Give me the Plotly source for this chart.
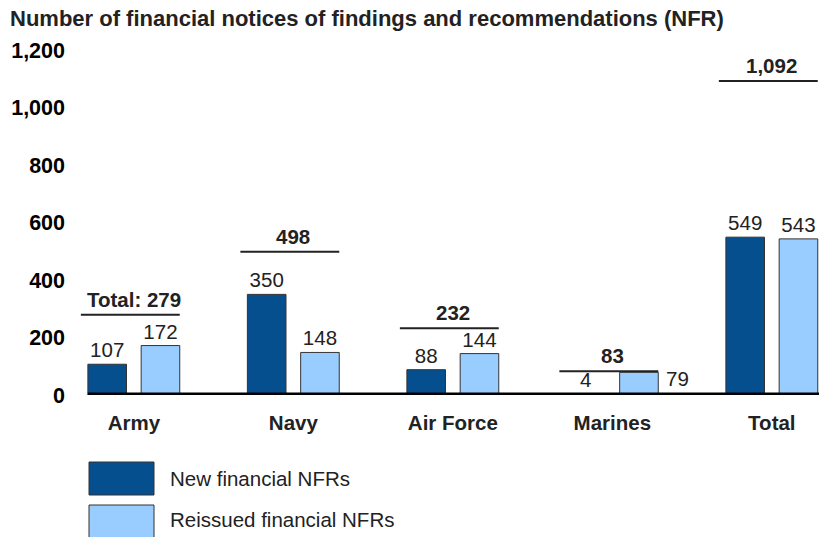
import plotly.graph_objects as go

categories = ["Army", "Navy", "Air Force", "Marines", "Total"]
new_nfrs = [107, 350, 88, 4, 549]
reissued_nfrs = [172, 148, 144, 79, 543]
group_totals = [279, 498, 232, 83, 1092]
total_prefix = ["Total: ", "", "", "", ""]
series_names = ["New financial NFRs", "Reissued financial NFRs"]
y_ticks = [0, 200, 400, 600, 800, 1000, 1200]
title_text = "Number of financial notices of findings and recommendations (NFR)"

DARK = "#054F8F"
LIGHT = "#99CCFF"
TXT = "#222222"
FONT = "Liberation Sans, Arial, sans-serif"

W, H = 819, 537
L, R, T, B = 78, 0, 50, 142
PW, PH = W - L - R, H - T - B

xs = list(range(len(categories)))
BW = 0.242
OFF_NEW = -0.288
OFF_RE = 0.046

# label texts (Marines reissued label is placed beside the bar)
re_text = [str(v) for v in reissued_nfrs]
re_text[3] = ""

VAL_SIZE = 20.5

fig = go.Figure()
fig.add_trace(go.Bar(
    x=xs, y=new_nfrs, name=series_names[0], width=BW, offset=OFF_NEW,
    marker=dict(color=DARK, line=dict(color="#333333", width=1)),
    text=[str(v) for v in new_nfrs], textposition="outside",
    textfont=dict(size=VAL_SIZE, color=TXT, family=FONT), cliponaxis=False,
    showlegend=False, hoverinfo="skip",
))
fig.add_trace(go.Bar(
    x=xs, y=reissued_nfrs, name=series_names[1], width=BW, offset=OFF_RE,
    marker=dict(color=LIGHT, line=dict(color="#333333", width=1)),
    text=re_text, textposition="outside",
    textfont=dict(size=VAL_SIZE, color=TXT, family=FONT), cliponaxis=False,
    showlegend=False, hoverinfo="skip",
))

shapes = []
annotations = []
# baseline
shapes.append(dict(type="line", xref="x", yref="y", x0=OFF_NEW, x1=4.3, y0=0, y1=0,
                   line=dict(color="black", width=5), layer="above"))
# group total brackets
for i, tot in enumerate(group_totals):
    shapes.append(dict(type="line", xref="x", yref="y", x0=i - 0.332, x1=i + OFF_RE + BW,
                       y0=tot, y1=tot, line=dict(color=TXT, width=2), layer="above"))
    annotations.append(dict(x=i, y=tot, xref="x", yref="y",
                            text=f"<b>{total_prefix[i]}{tot:,}</b>", showarrow=False,
                            yanchor="bottom", yshift=2,
                            font=dict(size=20.5, color=TXT, family=FONT)))
# Marines reissued label beside bar
annotations.append(dict(x=3 + OFF_RE + BW, y=reissued_nfrs[3], xref="x", yref="y",
                        text=str(reissued_nfrs[3]), showarrow=False,
                        xanchor="left", yanchor="middle", xshift=6, yshift=-6,
                        font=dict(size=VAL_SIZE, color=TXT, family=FONT)))

# legend (drawn manually)
def px2paper_x(px):
    return (px - L) / PW

def py2paper_y(py):
    return (T + PH - py) / PH

legend_boxes = [(462, 495), (505, 545)]
legend_text_y = [478, 519]
for (y0, y1), ty, col, name in zip(legend_boxes, legend_text_y, [DARK, LIGHT], series_names):
    shapes.append(dict(type="rect", xref="paper", yref="paper",
                       x0=px2paper_x(89), x1=px2paper_x(154),
                       y0=py2paper_y(y0), y1=py2paper_y(y1),
                       fillcolor=col, line=dict(color="#333333", width=1)))
    annotations.append(dict(x=px2paper_x(168), y=py2paper_y(ty),
                            xref="paper", yref="paper", text=name, showarrow=False,
                            xanchor="left", yanchor="middle",
                            font=dict(size=20.5, color=TXT, family=FONT)))

fig.update_layout(
    width=W, height=H,
    margin=dict(l=L, r=R, t=T, b=B, pad=0),
    paper_bgcolor="white", plot_bgcolor="white",
    barmode="overlay",
    hovermode=False,
    title=dict(text=f"<b>{title_text}</b>", x=10 / W, xref="container", xanchor="left",
               y=1 - 18 / H, yref="container", yanchor="middle",
               font=dict(size=22, color=TXT, family=FONT)),
    xaxis=dict(range=[-0.35, -0.35 + PW / 159.5], tickvals=xs,
               ticktext=[f"<b>{c}</b>" for c in categories],
               showgrid=False, zeroline=False, showline=False, ticks="",
               tickfont=dict(size=20.5, color=TXT, family=FONT), ticklabelstandoff=13),
    yaxis=dict(range=[0, 1200], tickvals=y_ticks,
               ticktext=[f"<b>{v:,}</b>" for v in y_ticks],
               showgrid=False, zeroline=False, showline=False, ticks="",
               tickfont=dict(size=21.5, color="black", family=FONT), ticklabelstandoff=12),
    shapes=shapes, annotations=annotations,
    font=dict(family=FONT, color=TXT),
)

fig.write_html("out.html", config={"displayModeBar": False, "staticPlot": True},
               post_script="document.body.style.margin='0';document.body.style.overflow='hidden';")
